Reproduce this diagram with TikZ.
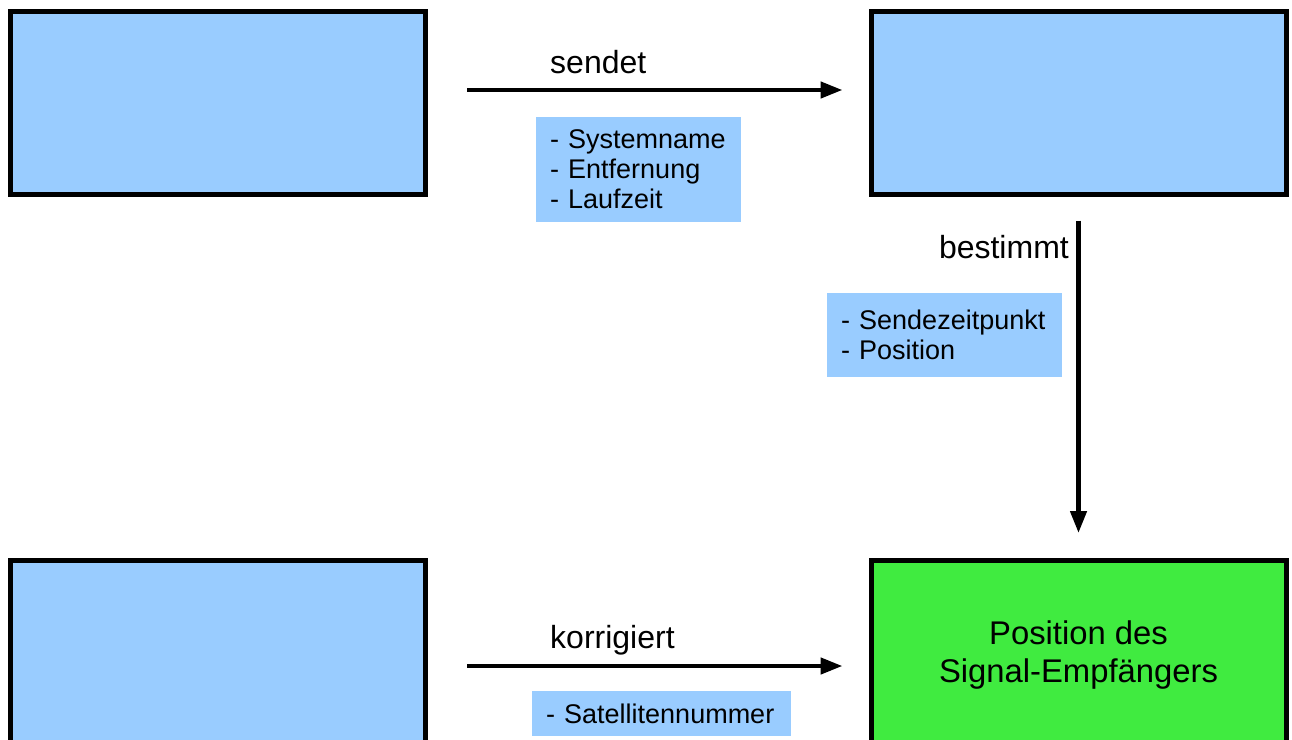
\documentclass[tikz,border=0pt]{standalone}
\usepackage{fontspec}
\setmainfont{Liberation Sans}
\usetikzlibrary{arrows.meta}
\definecolor{boxblue}{RGB}{153,204,255}
\definecolor{boxgreen}{RGB}{64,235,64}
\begin{document}
\begin{tikzpicture}[x=1pt,y=-1pt,
  bigbox/.style={draw=black, line width=5pt, fill=boxblue, minimum width=415pt, minimum height=183pt, inner sep=0pt},
  listbox/.style={fill=boxblue, font=\fontsize{27}{30}\selectfont, align=left, inner xsep=14pt, inner ysep=0pt},
  verb/.style={font=\fontsize{32}{38}\selectfont, inner sep=0pt},
  arr/.style={line width=4.5pt, -{Triangle[length=22pt,width=16pt]}}]
\useasboundingbox (0,0) rectangle (1292,739);
\clip (0,0) rectangle (1292,739);
\node[bigbox] (tl) at (218,103) {};
\node[bigbox] (tr) at (1078.5,103) {};
\node[bigbox] (bl) at (218,651.5) {};
\node[bigbox, minimum height=191pt, fill=boxgreen, font=\fontsize{32.8}{38}\selectfont, align=center] (br) at (1078.5,655.5) {Position des\\Signal-Empfängers};
\draw[arr, shorten <=39pt, shorten >=26pt] ([yshift=13pt]tl.east) -- ([yshift=13pt]tr.west);
\node[verb, anchor=base west] (l1) at (550,73) {sendet};
\node[listbox, text width=177pt, minimum height=105pt, anchor=north west] (b1) at (536,117) {- Systemname\\- Entfernung\\- Laufzeit};
\draw[arr, shorten <=23.5pt, shorten >=24.5pt] (tr.south) -- (br.north);
\node[verb, anchor=base east] (l2) at (1069,258) {bestimmt};
\node[listbox, text width=207pt, minimum height=84pt, anchor=north west] (b2) at (827,293) {- Sendezeitpunkt\\- Position};
\draw[arr, shorten <=39pt, shorten >=26pt] ([yshift=-14.5pt]bl.east) -- ([yshift=-10.5pt]br.west);
\node[verb, anchor=base west] (l3) at (550,648) {korrigiert};
\node[listbox, text width=231pt, minimum height=45pt, anchor=north west] (b3) at (532,691) {- Satellitennummer};
\end{tikzpicture}
\end{document}
